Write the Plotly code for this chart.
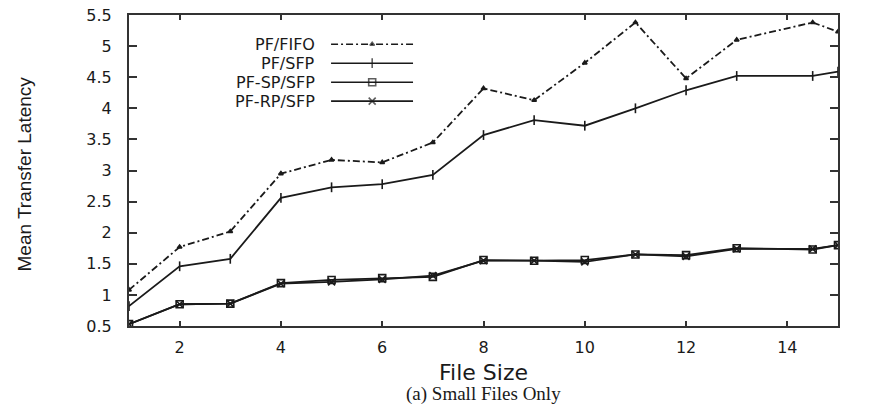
import plotly.graph_objects as go

# ---- data ----
file_size = [1, 2, 3, 4, 5, 6, 7, 8, 9, 10, 11, 12, 13, 14.5, 15]
pf_fifo = [1.08, 1.77, 2.02, 2.95, 3.17, 3.13, 3.45, 4.32, 4.13, 4.73, 5.38, 4.48, 5.10, 5.38, 5.23]
pf_sfp = [0.82, 1.46, 1.58, 2.56, 2.73, 2.78, 2.93, 3.57, 3.81, 3.72, 4.00, 4.29, 4.52, 4.52, 4.59]
pf_sp_sfp = [0.53, 0.85, 0.86, 1.19, 1.24, 1.27, 1.29, 1.56, 1.55, 1.56, 1.65, 1.64, 1.75, 1.73, 1.80]
pf_rp_sfp = [0.53, 0.85, 0.86, 1.18, 1.21, 1.25, 1.31, 1.55, 1.55, 1.53, 1.65, 1.62, 1.74, 1.74, 1.80]

series_names = ["PF/FIFO", "PF/SFP", "PF-SP/SFP", "PF-RP/SFP"]
x_ticks = [2, 4, 6, 8, 10, 12, 14]
y_ticks = [0.5, 1, 1.5, 2, 2.5, 3, 3.5, 4, 4.5, 5, 5.5]

# ---- styles ----
INK = "#1a1a1a"
styles = [
    dict(dash="7px,3px,2px,3px", symbol="triangle-up", size=4),
    dict(dash="solid", symbol="line-ns", size=7),
    dict(dash="solid", symbol="square-open", size=7),
    dict(dash="solid", symbol="x-thin", size=7),
]
series = [pf_fifo, pf_sfp, pf_sp_sfp, pf_rp_sfp]

fig = go.Figure()
for name, ys, st in zip(series_names, series, styles):
    fig.add_trace(go.Scatter(
        x=file_size, y=ys, name=name, mode="lines+markers",
        line=dict(color=INK, width=1.8, dash=st["dash"]),
        marker=dict(symbol=st["symbol"], size=st["size"], color=INK,
                    line=dict(color=INK, width=1.6)),
        showlegend=False, cliponaxis=True,
    ))

# ---- custom legend (text on the left, sample on the right) ----
leg_text_x = 0.265
leg_line_x = [0.285, 0.343, 0.4006]
leg_rows = [0.906, 0.845, 0.784, 0.723]
for name, st, ry in zip(series_names, styles, leg_rows):
    fig.add_trace(go.Scatter(
        x=leg_line_x, y=[ry] * 3, mode="lines+markers",
        xaxis="x2", yaxis="y2", showlegend=False, hoverinfo="skip",
        line=dict(color=INK, width=1.6, dash=st["dash"]),
        marker=dict(symbol=st["symbol"], size=[0, st["size"], 0], color=INK,
                    line=dict(color=INK, width=1.6)),
    ))
    fig.add_annotation(
        x=leg_text_x, y=ry, xref="x2", yref="y2", text=name,
        showarrow=False, xanchor="right", yanchor="middle",
        font=dict(family="DejaVu Sans", size=16, color=INK),
    )

# axis titles and caption
fig.add_annotation(
    x=0.5, y=0, xref="paper", yref="paper", yshift=-46,
    text="File Size", showarrow=False, xanchor="center", yanchor="middle",
    font=dict(family="DejaVu Sans", size=22, color=INK),
)
fig.add_annotation(
    x=0, y=0.5, xref="paper", yref="paper", xshift=-105, yshift=-4,
    text="Mean Transfer Latency", textangle=-90, showarrow=False,
    xanchor="center", yanchor="middle",
    font=dict(family="Liberation Sans", size=19, color=INK),
)
fig.add_annotation(
    x=0.5, y=0, xref="paper", yref="paper", yshift=-68,
    text="(a) Small Files Only", showarrow=False, xanchor="center", yanchor="middle",
    font=dict(family="Liberation Serif", size=19, color=INK),
)

axis_common = dict(
    showgrid=False, zeroline=False, showline=True, linecolor="#333", linewidth=2,
    mirror="ticks", ticks="inside", tickcolor="#333", tickwidth=1.5,
    tickfont=dict(family="DejaVu Sans", size=16, color=INK),
)

fig.update_layout(
    width=873, height=406,
    margin=dict(l=129, r=35, t=15, b=80, autoexpand=False),
    paper_bgcolor="white", plot_bgcolor="white",
    xaxis=dict(range=[1, 15], tickvals=x_ticks, ticklen=5, ticklabelstandoff=6,
               **axis_common),
    yaxis=dict(range=[0.5, 5.5], tickvals=y_ticks, ticktext=[f"{v:g}" for v in y_ticks],
               ticklen=8, ticklabelstandoff=12,
               **axis_common),
    xaxis2=dict(range=[0, 1], overlaying="x", visible=False, fixedrange=True),
    yaxis2=dict(range=[0, 1], overlaying="y", visible=False, fixedrange=True),
)

fig.write_html("out.html", config={"displayModeBar": False},
               post_script="document.body.style.margin='0';")
